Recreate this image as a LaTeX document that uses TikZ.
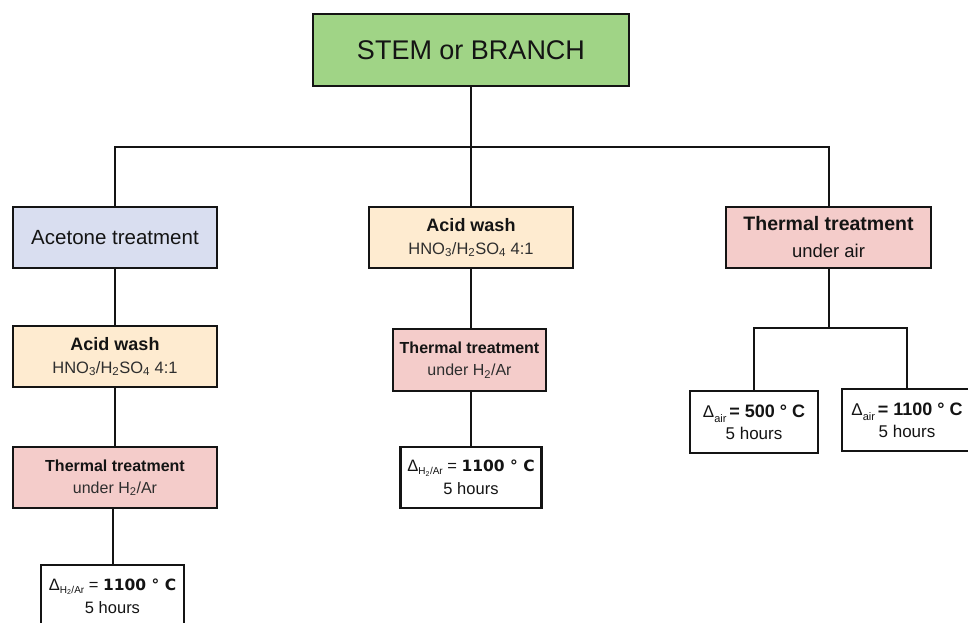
\documentclass[tikz,border=0pt]{standalone}
\usepackage{fontspec}
\setmainfont{Liberation Sans}
\newfontfamily\dejavu{DejaVu Sans}
\definecolor{stemgreen}{HTML}{A0D486}
\definecolor{acetblue}{HTML}{D9DEF0}
\definecolor{acidorange}{HTML}{FEEBD0}
\definecolor{thermred}{HTML}{F4CCCA}
\definecolor{ink}{HTML}{141414}
\definecolor{subink}{HTML}{2E2E2E}
\begin{document}
\begin{tikzpicture}[x=1pt,y=-1pt,
  box/.style={draw=ink, line width=2.2pt, inner sep=0pt, align=center, text=ink},
  conn/.style={line width=2pt, draw=ink},
  bw/.style={minimum width=204pt, minimum height=61pt}]
\useasboundingbox (0,0) rectangle (968,622);
\clip (0,0) rectangle (968,622);

% top
\node[box, fill=stemgreen, minimum width=316pt, minimum height=72pt,
      font=\fontsize{27}{32}\selectfont] (stem) at (471,50) {STEM or BRANCH};

% second row
\node[box, bw, fill=acetblue, font=\fontsize{20.5}{23}\selectfont] (acet) at (115,237.5) {Acetone treatment};
\node[box, bw, fill=acidorange, font=\fontsize{16.5}{23}\selectfont] (acidM) at (471,237.5)
  {{\bfseries\fontsize{18}{23}\selectfont Acid wash}\\{\color{subink}HNO\textsubscript{3}/H\textsubscript{2}SO\textsubscript{4} 4:1}};
\node[box, minimum width=205pt, minimum height=61pt, fill=thermred, font=\fontsize{18.5}{27}\selectfont] (thermR) at (828.5,237.5)
  {{\bfseries\fontsize{19.5}{27}\selectfont Thermal treatment}\\under air};

% left column
\node[box, bw, fill=acidorange, font=\fontsize{16.5}{23}\selectfont] (acidL) at (115,356.5)
  {{\bfseries\fontsize{18}{23}\selectfont Acid wash}\\{\color{subink}HNO\textsubscript{3}/H\textsubscript{2}SO\textsubscript{4} 4:1}};
\node[box, bw, fill=thermred, font=\fontsize{16}{22}\selectfont] (thermL) at (115,477.5)
  {{\bfseries Thermal treatment}\\{\color{subink}under H\textsubscript{2}/Ar}};
\node[box, fill=white, minimum width=143pt, minimum height=62pt, font=\fontsize{16.5}{23}\selectfont] (boxL) at (112.5,596)
  {Δ\raisebox{-3pt}{\fontsize{10}{10}\selectfont H\textsubscript{2}/Ar} = {\dejavu\bfseries\fontsize{15.5}{23}\selectfont 1100 ° C}\\5 hours};

% middle column
\node[box, minimum width=153pt, minimum height=62pt, fill=thermred, font=\fontsize{16}{22}\selectfont] (thermM) at (469.5,360)
  {{\bfseries Thermal treatment}\\{\color{subink}under H\textsubscript{2}/Ar}};
\node[box, fill=white, minimum width=141pt, minimum height=61pt, font=\fontsize{16.5}{23}\selectfont] (boxM) at (471,477.5)
  {Δ\raisebox{-3pt}{\fontsize{10}{10}\selectfont H\textsubscript{2}/Ar} = {\dejavu\bfseries\fontsize{15.5}{23}\selectfont 1100 ° C}\\5 hours};

% right column
\node[box, fill=white, minimum width=128pt, minimum height=62pt, font=\fontsize{17}{22}\selectfont] (boxR1) at (754,422)
  {Δ\raisebox{-5pt}{\fontsize{11}{11}\selectfont air}\,{\bfseries\fontsize{18}{22}\selectfont = 500 ° C}\\5 hours};
\node[box, fill=white, minimum width=130pt, minimum height=62pt, font=\fontsize{17}{22}\selectfont] (boxR2) at (907,420)
  {Δ\raisebox{-5pt}{\fontsize{11}{11}\selectfont air}\,{\bfseries\fontsize{18}{22}\selectfont = 1100 ° C}\\5 hours};

% connectors
\coordinate (j) at (471,147);
\coordinate (k) at (828.5,328);
\draw[conn] (stem.south) -- (j);
\draw[conn] (acet.north) |- (j) -| (thermR.north);
\draw[conn] (j) -- (acidM.north);
\draw[conn] (acet.south) -- (acidL.north);
\draw[conn] (acidL.south) -- (thermL.north);
\draw[conn] (boxL.north) -- (boxL.north |- thermL.south);
\draw[conn] (acidM.south) -- (acidM.south |- thermM.north);
\draw[conn] (boxM.north) -- (boxM.north |- thermM.south);
\draw[conn] (thermR.south) -- (k);
\draw[conn] (boxR1.north) |- (k) -| (boxR2.north);
\end{tikzpicture}
\end{document}
